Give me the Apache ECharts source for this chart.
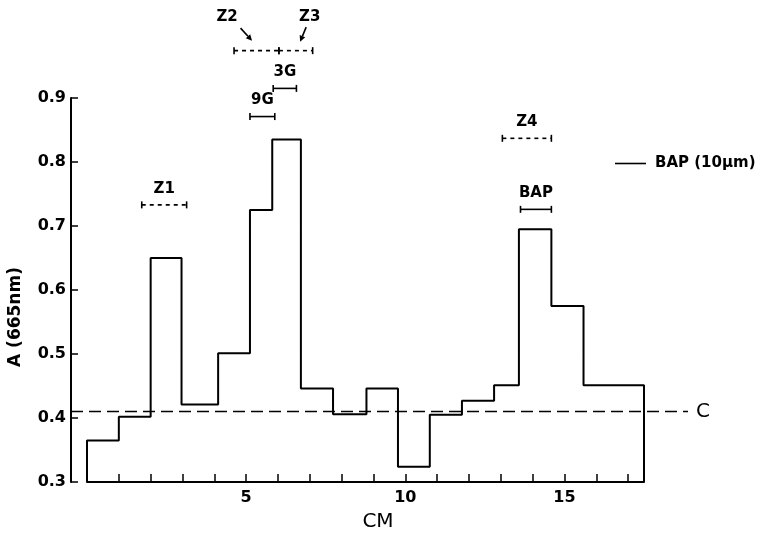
<!DOCTYPE html>
<html><head><meta charset="utf-8">
<script src="https://cdn.jsdelivr.net/npm/echarts@6/dist/echarts.min.js"></script>
<style>html,body{margin:0;padding:0;background:#fff}#c{width:760px;height:534px}</style>
</head><body><div id="c"></div>
<script>
// ---- data ----
var binEdges = [0, 1.0, 2.0, 2.97, 4.12, 5.12, 5.82, 6.72, 7.73, 8.78, 9.77, 10.77, 11.78, 12.79, 13.57, 14.59, 15.6, 17.5];
var absorbance = [0.365, 0.402, 0.650, 0.421, 0.501, 0.725, 0.835, 0.446, 0.406, 0.446, 0.324, 0.405, 0.427, 0.451, 0.695, 0.575, 0.451];
var controlLevel = 0.41;
var controlSpan = [-0.48, 18.88];
var xTickLabels = ['5', '10', '15'];
var yTickLabels = ['0.3', '0.4', '0.5', '0.6', '0.7', '0.8', '0.9'];
var annoNames = ['Z1', 'Z2', 'Z3', '9G', '3G', 'Z4', 'BAP'];
var annoStart = [1.72, 4.62, 6.03, 5.12, 5.85, 13.05, 13.62];
var annoEnd = [3.13, 6.03, 7.09, 5.90, 6.58, 14.59, 14.59];
var annoLevel = [0.733, 0.974, 0.974, 0.871, 0.915, 0.837, 0.726];
var annoDashed = [true, true, true, false, false, true, false];
var seriesName = 'BAP (10μm)';

// ---- layout / style ----
var FONT = '"DejaVu Sans", sans-serif';
var annoLabelMode = ['center', 'arrowLeft', 'arrowRight', 'center', 'center', 'center', 'center'];
var yMin = 0.3, yMax = 0.9;

var histPts = [[binEdges[0], yMin]];
for (var i = 0; i < absorbance.length; i++) {
  histPts.push([binEdges[i], absorbance[i]]);
  histPts.push([binEdges[i + 1], absorbance[i]]);
}
histPts.push([binEdges[binEdges.length - 1], yMin]);

function arrow(x1, y1, x2, y2) {
  var dx = x2 - x1, dy = y2 - y1, L = Math.sqrt(dx * dx + dy * dy);
  var ux = dx / L, uy = dy / L, h = 6, w = 3;
  var bx = x2 - ux * h, by = y2 - uy * h;
  return [
    {type: 'line', shape: {x1: x1, y1: y1, x2: bx, y2: by}, style: {stroke: '#000', lineWidth: 1.6}},
    {type: 'polygon', shape: {points: [[x2, y2], [bx - uy * w, by + ux * w], [bx + uy * w, by - ux * w]]}, style: {fill: '#000'}}
  ];
}

var chart = echarts.init(document.getElementById('c'), null, {renderer: 'canvas'});
chart.setOption({
  animation: false,
  backgroundColor: '#fff',
  grid: [
    {left: 87, right: 116, top: 98, bottom: 52, containLabel: false, outerBoundsMode: 'none'},
    {left: 71, right: 116, top: 98, bottom: 52, containLabel: false, outerBoundsMode: 'none'},
    {left: 71, right: 72, top: 98, bottom: 52, containLabel: false, outerBoundsMode: 'none'}
  ],
  legend: {
    data: [{name: seriesName, icon: 'rect'}], left: 610, top: 151, itemWidth: 31, itemHeight: 1.6,
    itemStyle: {color: '#000'},
    textStyle: {fontFamily: FONT, fontWeight: 'bold', fontSize: 15, color: '#000', padding: [0, 0, 0, 4]}
  },
  xAxis: [{
    gridIndex: 0, type: 'value', min: 0, max: 17.5, interval: 1,
    name: 'CM', nameLocation: 'middle', nameGap: 30,
    nameTextStyle: {fontFamily: FONT, fontSize: 20, color: '#000', padding: [0, 0, 0, 25]},
    axisLine: {show: true, lineStyle: {color: '#000', width: 2}},
    axisTick: {show: true, inside: true, length: 8, lineStyle: {color: '#000', width: 1.5}},
    axisLabel: {
      margin: 8, color: '#000', fontFamily: FONT, fontWeight: 'bold', fontSize: 16,
      formatter: function (v) { var s = String(v); return xTickLabels.indexOf(s) >= 0 ? s : ''; }
    },
    splitLine: {show: false}
  }, {
    gridIndex: 1, type: 'value', min: 0, max: 1, show: false
  }, {
    gridIndex: 2, type: 'value', min: controlSpan[0], max: controlSpan[1], show: false
  }],
  yAxis: [{
    gridIndex: 0, type: 'value', min: yMin, max: yMax, interval: 0.1, show: false
  }, {
    gridIndex: 1, type: 'value', min: yMin, max: yMax, interval: 0.1,
    name: 'A (665nm)', nameLocation: 'middle', nameGap: 47, nameRotate: 90,
    nameTextStyle: {fontFamily: FONT, fontWeight: 'bold', fontSize: 17, color: '#000', padding: [0, 54, 0, 0]},
    axisLine: {show: true, lineStyle: {color: '#000', width: 2}},
    axisTick: {show: true, inside: true, length: 7, lineStyle: {color: '#000', width: 1.5}},
    axisLabel: {
      margin: 5, color: '#000', fontFamily: FONT, fontWeight: 'bold', fontSize: 16,
      formatter: function (v) { var k = Math.round((v - yMin) * 10); return yTickLabels[k] || ''; }
    },
    splitLine: {show: false}
  }, {
    gridIndex: 2, type: 'value', min: yMin, max: yMax, show: false
  }],
  series: [
    {
      name: seriesName, type: 'line', data: histPts, symbol: 'none', clip: false,
      xAxisIndex: 0, yAxisIndex: 0,
      lineStyle: {color: '#000', width: 2}, itemStyle: {color: '#000'}, z: 5
    },
    {
      name: 'C', type: 'line', symbol: 'none', clip: false,
      xAxisIndex: 2, yAxisIndex: 2,
      data: [[controlSpan[0], controlLevel], [controlSpan[1], controlLevel]],
      lineStyle: {color: '#000', width: 1.5, type: [12, 6]},
      endLabel: {show: true, formatter: 'C', distance: 8, fontFamily: FONT, fontSize: 20, color: '#000'},
      z: 4
    },
    {
      name: 'annotations', type: 'custom', clip: false,
      xAxisIndex: 0, yAxisIndex: 0,
      encode: {x: [0, 1], y: 2},
      data: annoStart.map(function (s, i) { return [s, annoEnd[i], annoLevel[i]]; }),
      renderItem: function (params, api) {
        var i = params.dataIndex;
        var s = api.coord([api.value(0), api.value(2)]);
        var e = api.coord([api.value(1), api.value(2)]);
        var y = s[1];
        var st = {stroke: '#000', lineWidth: 1.6};
        var ch = [
          {type: 'line', shape: {x1: s[0], y1: y, x2: e[0], y2: y}, style: {stroke: '#000', lineWidth: 1.6, lineDash: annoDashed[i] ? [4, 4] : null}},
          {type: 'line', shape: {x1: s[0], y1: y - 3.5, x2: s[0], y2: y + 3.5}, style: st},
          {type: 'line', shape: {x1: e[0], y1: y - 3.5, x2: e[0], y2: y + 3.5}, style: st}
        ];
        var tf = 'bold 15px ' + FONT;
        var mode = annoLabelMode[i];
        if (mode === 'center') {
          ch.push({type: 'text', style: {text: annoNames[i], x: (s[0] + e[0]) / 2, y: y - 16, align: 'center', verticalAlign: 'middle', font: tf, fill: '#000'}});
        } else if (mode === 'arrowLeft') {
          ch.push({type: 'text', style: {text: annoNames[i], x: s[0] - 7, y: y - 34, align: 'center', verticalAlign: 'middle', font: tf, fill: '#000'}});
          ch = ch.concat(arrow(s[0] + 6.5, y - 22.5, s[0] + 18, y - 10));
        } else {
          ch.push({type: 'text', style: {text: annoNames[i], x: e[0] - 3, y: y - 34, align: 'center', verticalAlign: 'middle', font: tf, fill: '#000'}});
          ch = ch.concat(arrow(e[0] - 6.5, y - 23.5, e[0] - 12.5, y - 9));
        }
        return {type: 'group', children: ch};
      },
      z: 6
    }
  ]
});
</script>
</body></html>
